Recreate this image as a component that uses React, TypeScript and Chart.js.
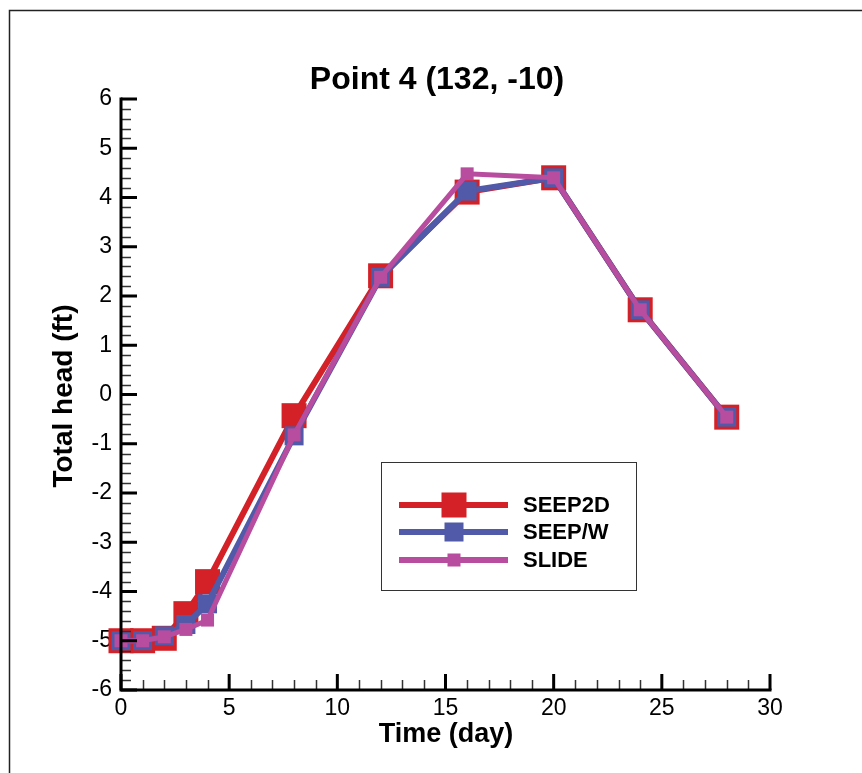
import React, { useEffect, useRef } from "react";
import { Chart, registerables } from "chart.js";

Chart.register(...registerables);

// ---- data ----
const days = [0, 1, 2, 3, 4, 8, 12, 16, 20, 24, 28];
const seep2d = [-5.0, -5.0, -4.95, -4.45, -3.8, -0.43, 2.41, 4.11, 4.4, 1.72, -0.46];
const seepw = [-5.0, -5.0, -4.9, -4.67, -4.25, -0.84, 2.38, 4.13, 4.4, 1.72, -0.46];
const slide = [-5.0, -5.0, -4.92, -4.77, -4.58, -0.82, 2.38, 4.48, 4.4, 1.72, -0.46];
const seriesNames = ["SEEP2D", "SEEP/W", "SLIDE"];
const titleText = "Point 4 (132, -10)";
const xTitle = "Time (day)";
const yTitle = "Total head (ft)";
const xMin = 0, xMax = 30, xStep = 5, xMinorStep = 1;
const yMin = -6, yMax = 6, yStep = 1, yMinorStep = 0.2;

// ---- styles ----
const colors = ["rgb(212,32,39)", "rgb(80,90,168)", "rgb(184,76,158)"];
const lineWidths = [6, 6, 5];
const markerSides = [25, 19, 13];
const FONT = "'Liberation Sans', Arial, Helvetica, sans-serif";

const decorPlugin = {
  id: "decor",
  beforeDraw(chart: any) {
    const ctx = chart.ctx;
    ctx.save();
    ctx.fillStyle = "#fff";
    ctx.fillRect(0, 0, chart.width, chart.height);
    ctx.strokeStyle = "#222";
    ctx.lineWidth = 1.5;
    ctx.beginPath();
    ctx.moveTo(9.5, chart.height);
    ctx.lineTo(9.5, 10.5);
    ctx.lineTo(chart.width, 10.5);
    ctx.stroke();
    ctx.restore();
  },
  afterDatasetsDraw(chart: any) {
    const ctx = chart.ctx;
    const { left, right, top, bottom } = chart.chartArea;
    const xs = chart.scales.x;
    const ys = chart.scales.y;
    ctx.save();
    // minor ticks
    ctx.strokeStyle = "#333";
    ctx.lineWidth = 1.5;
    ctx.beginPath();
    const nY = Math.round((yMax - yMin) / yMinorStep);
    for (let i = 0; i <= nY; i++) {
      const v = yMin + i * yMinorStep;
      if (i % Math.round(yStep / yMinorStep) === 0) continue;
      const py = Math.round(ys.getPixelForValue(v)) + 0.5;
      ctx.moveTo(left, py);
      ctx.lineTo(left + 10, py);
    }
    const nX = Math.round((xMax - xMin) / xMinorStep);
    for (let i = 0; i <= nX; i++) {
      const v = xMin + i * xMinorStep;
      if (i % Math.round(xStep / xMinorStep) === 0) continue;
      const px = Math.round(xs.getPixelForValue(v)) + 0.5;
      ctx.moveTo(px, bottom);
      ctx.lineTo(px, bottom - 10);
    }
    ctx.stroke();
    // major ticks
    ctx.strokeStyle = "#000";
    ctx.lineWidth = 3;
    ctx.beginPath();
    for (let v = yMin; v <= yMax + 1e-9; v += yStep) {
      const py = ys.getPixelForValue(v);
      ctx.moveTo(left, py);
      ctx.lineTo(left + 16, py);
    }
    for (let v = xMin; v <= xMax + 1e-9; v += xStep) {
      const px = xs.getPixelForValue(v);
      ctx.moveTo(px, bottom);
      ctx.lineTo(px, bottom - 16);
    }
    ctx.stroke();
    // axis lines
    ctx.lineCap = "square";
    ctx.beginPath();
    ctx.moveTo(left, top);
    ctx.lineTo(left, bottom);
    ctx.lineTo(right, bottom);
    ctx.stroke();
    ctx.lineCap = "butt";

    // legend
    ctx.lineWidth = 1;
    ctx.strokeStyle = "#333";
    ctx.strokeRect(381.5, 462.5, 255, 128);
    const ly = [505, 532, 560];
    for (let i = 0; i < 3; i++) {
      ctx.strokeStyle = colors[i];
      ctx.lineWidth = 6;
      ctx.beginPath();
      ctx.moveTo(399, ly[i]);
      ctx.lineTo(508, ly[i]);
      ctx.stroke();
      ctx.fillStyle = colors[i];
      const s = markerSides[i];
      ctx.fillRect(454 - s / 2, ly[i] - s / 2, s, s);
      ctx.fillStyle = "#000";
      ctx.font = `bold 22px ${FONT}`;
      ctx.textAlign = "left";
      ctx.textBaseline = "middle";
      ctx.fillText(seriesNames[i], 523, ly[i] + 1);
    }

    // titles
    ctx.fillStyle = "#000";
    ctx.textAlign = "center";
    ctx.textBaseline = "alphabetic";
    ctx.font = `bold 32px ${FONT}`;
    ctx.fillText(titleText, 437, 89);
    ctx.font = `bold 27px ${FONT}`;
    ctx.fillText(xTitle, 446, 742);
    ctx.font = `bold 28px ${FONT}`;
    ctx.save();
    ctx.translate(72, 396);
    ctx.rotate(-Math.PI / 2);
    ctx.fillText(yTitle, 0, 0);
    ctx.restore();
    ctx.restore();
  },
};

export default function App() {
  const ref = useRef<HTMLCanvasElement>(null);
  useEffect(() => {
    if (!ref.current) return;
    const series = [seep2d, seepw, slide];
    const chart = new Chart(ref.current, {
      type: "line",
      data: {
        datasets: series.map((vals, i) => ({
          label: seriesNames[i],
          data: days.map((d, j) => ({ x: d, y: vals[j] })),
          borderColor: colors[i],
          backgroundColor: colors[i],
          borderWidth: lineWidths[i],
          pointStyle: "rect",
          pointRadius: markerSides[i] / Math.SQRT2,
          pointHoverRadius: markerSides[i] / Math.SQRT2,
          pointBorderWidth: 0,
          pointBackgroundColor: colors[i],
          tension: 0,
          clip: false as any,
          order: 3 - i,
        })),
      },
      options: {
        animation: false,
        responsive: false,
        events: [],
        layout: { padding: { top: 99, right: 92, left: 0, bottom: 0 } },
        plugins: { legend: { display: false }, title: { display: false }, tooltip: { enabled: false } },
        scales: {
          x: {
            type: "linear",
            min: xMin,
            max: xMax,
            grid: { display: false, drawTicks: false },
            border: { display: false },
            ticks: { stepSize: xStep, color: "#000", padding: 5, font: { family: FONT, size: 23 }, maxRotation: 0 },
            afterFit: (s: any) => { s.height = 83; },
          },
          y: {
            type: "linear",
            min: yMin,
            max: yMax,
            grid: { display: false, drawTicks: false },
            border: { display: false },
            ticks: { stepSize: yStep, color: "#000", padding: 9, font: { family: FONT, size: 23 } },
            afterFit: (s: any) => { s.width = 121; },
          },
        },
      },
      plugins: [decorPlugin],
    });
    return () => chart.destroy();
  }, []);
  return (
    <div style={{ position: "absolute", left: 0, top: 0, width: 862, height: 773 }}>
      <canvas ref={ref} width={862} height={773} style={{ display: "block" }} />
    </div>
  );
}
